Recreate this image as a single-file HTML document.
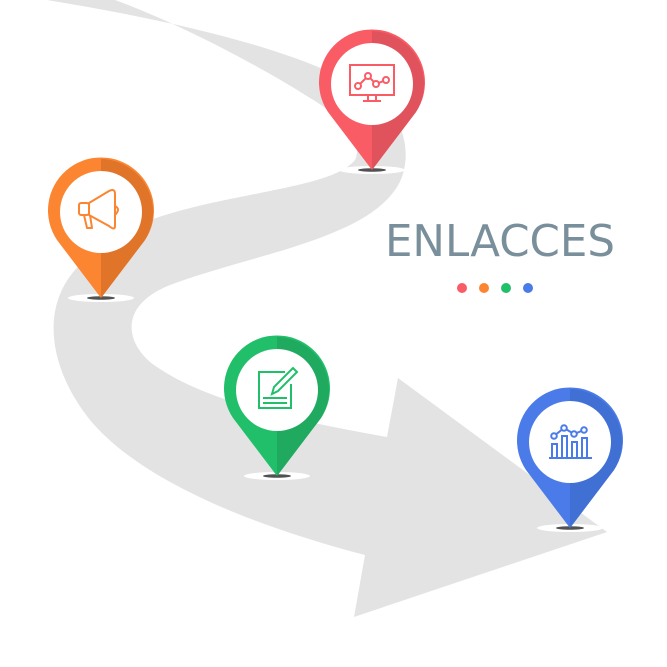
<!DOCTYPE html>
<html><head><meta charset="utf-8"><style>
html,body{margin:0;padding:0;background:#fff;width:667px;height:667px;overflow:hidden}
svg{display:block}
</style></head><body>
<svg width="667" height="667" viewBox="0 0 667 667" xmlns="http://www.w3.org/2000/svg">
<path fill="#e3e3e3" d="M47,0 C200,25 340,60 390,110 C410,135 410,170 395,190 C360,240 250,255 170,285 C120,305 125,340 150,362 C200,400 290,420 387,437 L398,378 L607,532 L354,617 L365,555 C250,525 140,480 90,420 C50,370 40,310 75,270 C110,230 150,215 240,197 C300,185 340,178 355,160 C365,140 335,112 310,98 C250,60 170,20 115,0 Z"/>
<defs>
<g id="shadow"><ellipse cx="0" cy="0" rx="33" ry="4" fill="#fff"/><ellipse cx="0" cy="0" rx="14" ry="1.8" fill="#333" opacity=".85"/></g>
</defs>
<g transform="translate(372,84)">
<use href="#shadow" y="86"/>
<path d="M0,86 L-44,28 A53,53 0 1 1 44,28 Z" fill="#fa5c66"/>
<path d="M0,86 L0,-53 A53,53 0 0 1 44,28 Z" fill="#e0535d"/>
<circle r="41" fill="#fff"/>
<g fill="none" stroke="#fa5c66" stroke-width="2">
<rect x="-22" y="-19" width="44" height="30"/>
<polyline points="-14,2 -4,-8 4,0 14,-4"/>
<circle cx="-14" cy="2" r="3" fill="#fff"/><circle cx="-4" cy="-8" r="3" fill="#fff"/><circle cx="4" cy="0" r="3" fill="#fff"/><circle cx="14" cy="-4" r="3" fill="#fff"/>
<path d="M-4,11 V17 M4,11 V17 M-9,17 H9"/>
</g></g>
<g transform="translate(101,212)">
<use href="#shadow" y="86"/>
<path d="M0,86 L-44,28 A53,53 0 1 1 44,28 Z" fill="#fb8531"/>
<path d="M0,86 L0,-53 A53,53 0 0 1 44,28 Z" fill="#e07428"/>
<circle r="41" fill="#fff"/>
<g fill="none" stroke="#fb8531" stroke-width="2" stroke-linejoin="round">
<rect x="-22" y="-9" width="10" height="12" rx="2"/>
<path d="M-12,-9 L8,-21 Q14,-24 14,-18 V14 Q14,19 8,14 L-12,3 Z"/>
<path d="M14,-6 Q20,-3 14,3"/>
<path d="M-17,3 L-14,16 H-9 L-11,3"/>
</g></g>
<g transform="translate(277,390)">
<use href="#shadow" y="86"/>
<path d="M0,86 L-44,28 A53,53 0 1 1 44,28 Z" fill="#22bf6b"/>
<path d="M0,86 L0,-53 A53,53 0 0 1 44,28 Z" fill="#1faa5f"/>
<circle r="41" fill="#fff"/>
<g fill="none" stroke="#22bf6b" stroke-width="2">
<path d="M8,-18 H-18 V18 H14 V-6"/>
<path d="M-14,8 H10 M-14,13 H10"/>
<path d="M-5,4 L-3,-3 L16,-22 L20,-18 L1,1 Z"/>
</g></g>
<g transform="translate(570,442)">
<use href="#shadow" y="86"/>
<path d="M0,86 L-44,28 A53,53 0 1 1 44,28 Z" fill="#4b7be9"/>
<path d="M0,86 L0,-53 A53,53 0 0 1 44,28 Z" fill="#4170d5"/>
<circle r="41" fill="#fff"/>
<g fill="none" stroke="#4b7be9" stroke-width="2">
<path d="M-21,16 H22"/>
<rect x="-18" y="2" width="5" height="14"/><rect x="-8" y="-6" width="5" height="22"/><rect x="2" y="0" width="5" height="16"/><rect x="12" y="-4" width="5" height="20"/>
<polyline points="-16,-6 -6,-14 4,-8 14,-12"/>
<circle cx="-16" cy="-6" r="2.8" fill="#fff"/><circle cx="-6" cy="-14" r="2.8" fill="#fff"/><circle cx="4" cy="-8" r="2.8" fill="#fff"/><circle cx="14" cy="-12" r="2.8" fill="#fff"/>
</g></g>
<text x="500" y="256" text-anchor="middle" font-family="'DejaVu Sans','Liberation Sans',sans-serif" font-size="43.5" fill="#7a8f9c">ENLACCES</text>
<circle cx="462" cy="288" r="5" fill="#fa5c66"/>
<circle cx="484" cy="288" r="5" fill="#fb8531"/>
<circle cx="506" cy="288" r="5" fill="#22bf6b"/>
<circle cx="528" cy="288" r="5" fill="#4b7be9"/>
</svg>
</body></html>
